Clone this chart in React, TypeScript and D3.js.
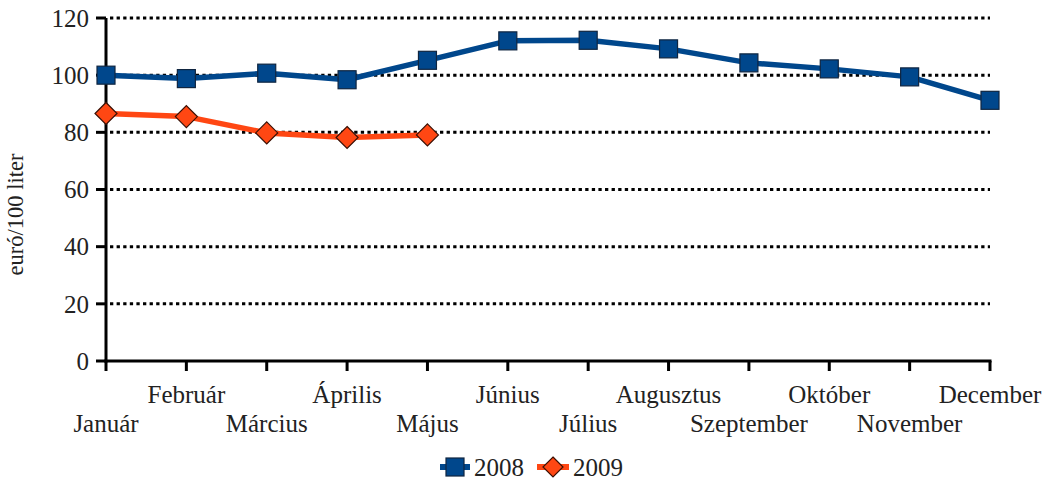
import React from "react";
import * as d3 from "d3";

const months = ["Január","Február","Március","Április","Május","Június","Július","Augusztus","Szeptember","Október","November","December"];
const values2008 = [100, 98.8, 100.7, 98.4, 105.2, 112, 112.2, 109.2, 104.3, 102.2, 99.4, 91.2];
const values2009 = [86.6, 85.5, 79.8, 78.2, 79.1];
const yTicks = [0, 20, 40, 60, 80, 100, 120];

const W = 1050, H = 481;
const FONT = "Liberation Serif, DejaVu Serif, serif";
const BLUE = "#00478c";
const BLUE_DARK = "#0f2540";
const ORANGE = "#ff4713";

export default function App() {
  const x = d3.scalePoint<string>().domain(months).range([106, 990]);
  const y = d3.scaleLinear().domain([0, 120]).range([361, 18]);

  const line = d3.line<number>()
    .x((_, i) => x(months[i]) as number)
    .y((d) => y(d));

  const sq = 18;
  const dm = 11;
  const diamond = (cx: number, cy: number) =>
    `M${cx},${cy - dm}L${cx + dm},${cy}L${cx},${cy + dm}L${cx - dm},${cy}Z`;

  return (
    <svg width={W} height={H} style={{ position: "absolute", left: 0, top: 0, background: "#fff", fontFamily: FONT }}>
      {yTicks.filter((t) => t > 0).map((t) => (
        <line key={"g" + t} x1={110} x2={990} y1={y(t)} y2={y(t)} stroke="#000" strokeWidth={3} strokeDasharray="3.3,3.3" />
      ))}
      <line x1={106} x2={106} y1={y(120)} y2={y(0) + 1.5} stroke="#000" strokeWidth={3} />
      {yTicks.map((t) => (
        <g key={"yt" + t}>
          <line x1={96} x2={106} y1={y(t)} y2={y(t)} stroke="#000" strokeWidth={3} />
          <text x={89} y={y(t)} dy="0.35em" textAnchor="end" fontSize={25} fill="#222" style={{ fontFamily: FONT }}>{t}</text>
        </g>
      ))}
      <line x1={104.5} x2={991.5} y1={y(0)} y2={y(0)} stroke="#000" strokeWidth={3} />
      {months.map((m, i) => (
        <g key={m}>
          <line x1={x(m)} x2={x(m)} y1={y(0)} y2={y(0) + 10} stroke="#000" strokeWidth={3} />
          <text x={x(m)} y={i % 2 === 0 ? 432 : 403} textAnchor="middle" fontSize={25} fill="#222" style={{ fontFamily: FONT }}>{m}</text>
        </g>
      ))}
      <text transform={`translate(23,${y(60) + 25}) rotate(-90)`} textAnchor="middle" fontSize={22.5} fill="#222" style={{ fontFamily: FONT }}>euró/100 liter</text>
      <path d={line(values2008) || ""} fill="none" stroke={BLUE} strokeWidth={5.5} strokeLinejoin="round" />
      {values2008.map((v, i) => (
        <rect key={"s" + i} x={(x(months[i]) as number) - sq / 2} y={y(v) - sq / 2} width={sq} height={sq} fill={BLUE} stroke={BLUE_DARK} strokeWidth={1.2} />
      ))}
      <path d={line(values2009) || ""} fill="none" stroke={ORANGE} strokeWidth={5.5} strokeLinejoin="round" />
      {values2009.map((v, i) => (
        <path key={"d" + i} d={diamond(x(months[i]) as number, y(v))} fill={ORANGE} stroke="#3a1005" strokeWidth={1.2} />
      ))}
      <g>
        <line x1={440} x2={470} y1={467} y2={467} stroke={BLUE} strokeWidth={6} />
        <rect x={446} y={458} width={18} height={18} fill={BLUE} stroke={BLUE_DARK} strokeWidth={1.2} />
        <text x={474} y={467} dy="0.35em" fontSize={25} fill="#222" style={{ fontFamily: FONT }}>2008</text>
        <line x1={537} x2={569} y1={467} y2={467} stroke={ORANGE} strokeWidth={6} />
        <path d={`M553,${467 - 10}L563,467L553,${467 + 10}L543,467Z`} fill={ORANGE} stroke="#3a1005" strokeWidth={1.2} />
        <text x={573} y={467} dy="0.35em" fontSize={25} fill="#222" style={{ fontFamily: FONT }}>2009</text>
      </g>
    </svg>
  );
}
